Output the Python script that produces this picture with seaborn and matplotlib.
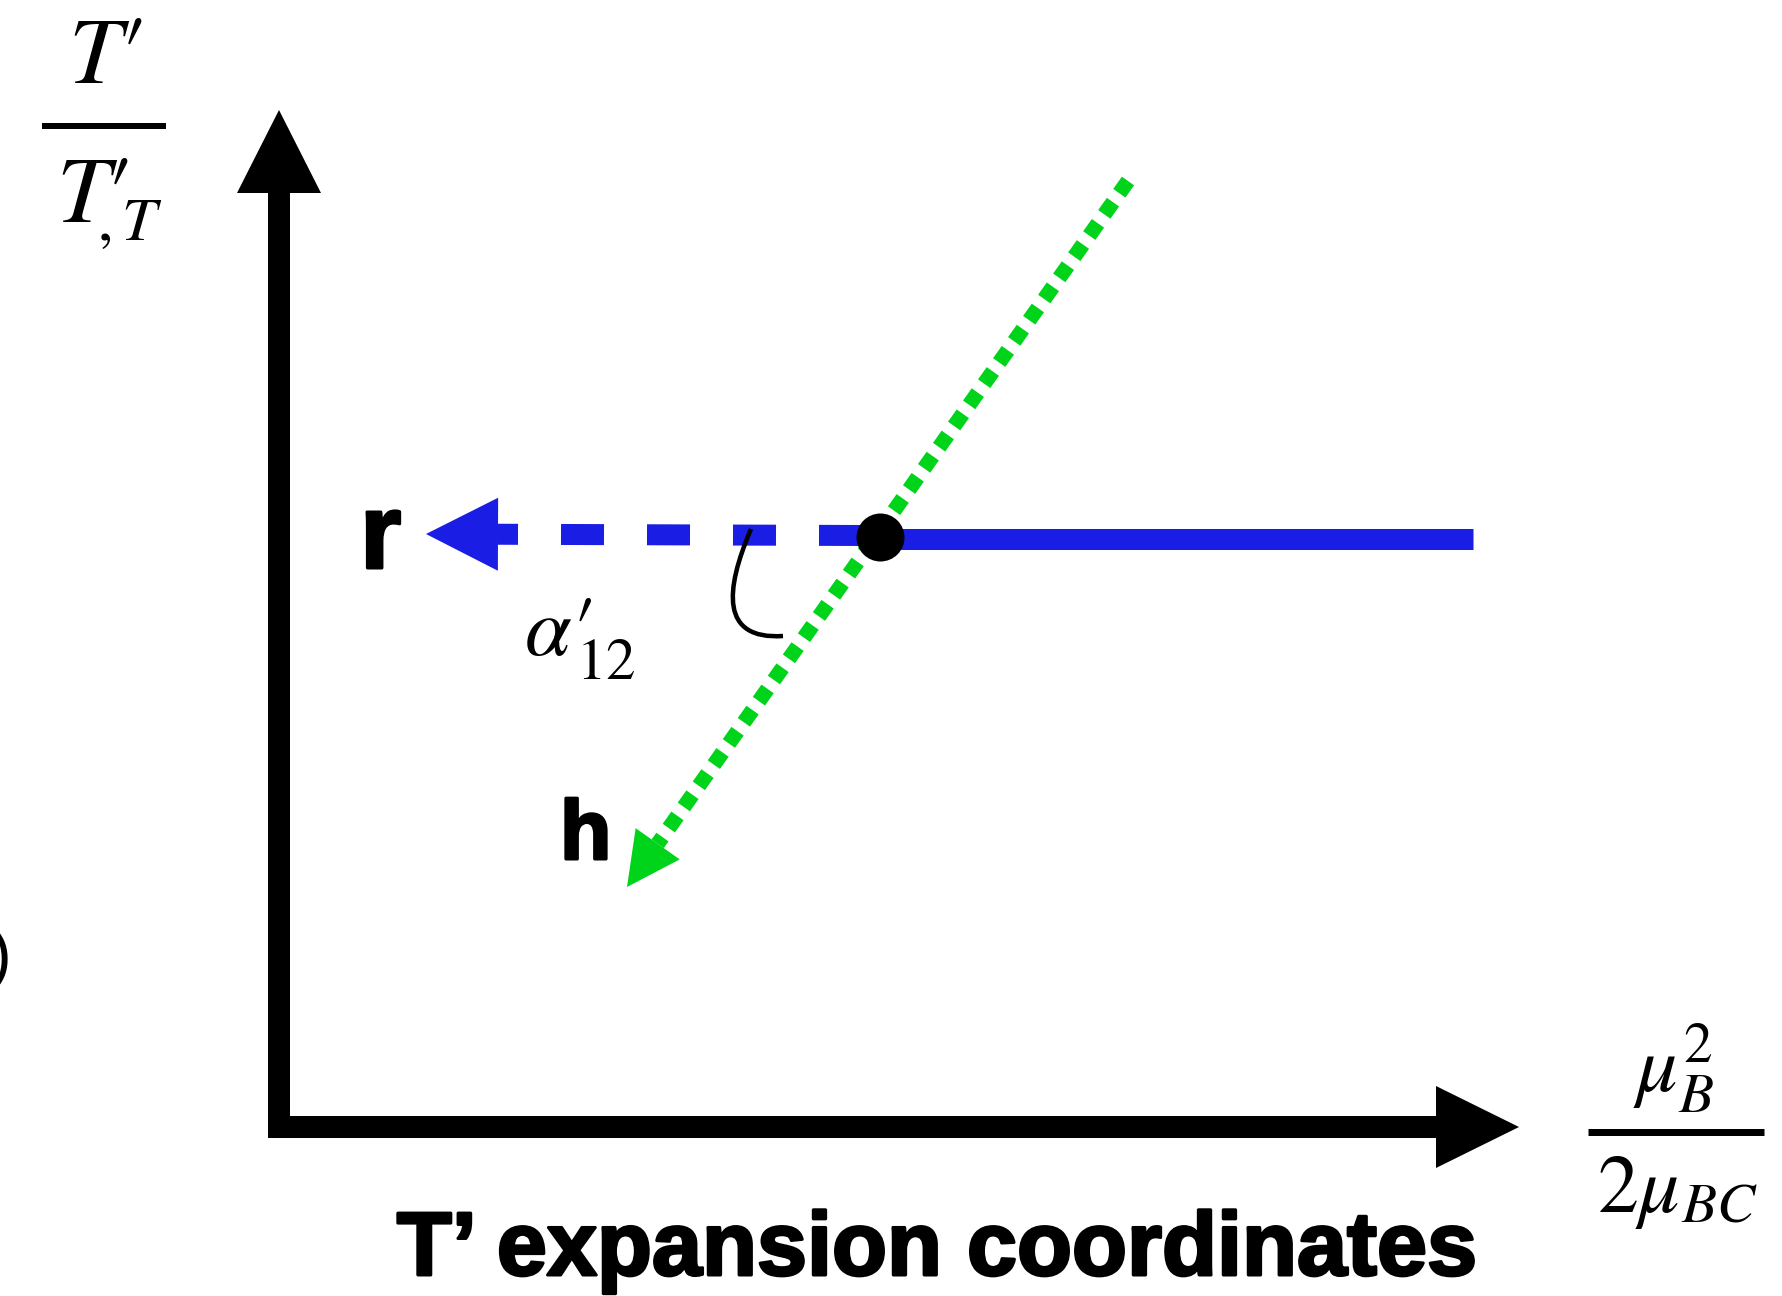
import numpy as np
import pandas as pd
import matplotlib
matplotlib.use("Agg")
import matplotlib.pyplot as plt
import matplotlib.patheffects as pe
import seaborn as sns
from matplotlib.path import Path
from matplotlib.patches import PathPatch, Polygon

# ---------------- diagram data (figure pixel coordinates, y downward) ----------------
axis_origin = [279, 1127]
x_axis_tip = [1519, 1127]
y_axis_tip = [279, 110]
y_axis_bottom = 1138
x_axis_left = 268

junction = [880, 537]            # black point
r_tip = [426, 534]               # arrow tip of the dashed "r" direction
r_dash_start = [862, 535.5]
solid_end = [1473, 538.5]
solid_start = [880, 538.5]
h_start = [1128, 181]            # top end of dotted "h" direction
h_tip = [627, 887]               # arrow tip of the "h" direction
arc_x = [751, 725, 720, 783]     # angle marker (cubic Bezier control points)
arc_y = [529, 590, 640, 636]

point_labels = ["r", "h"]
title_text = "T\u2019 expansion coordinates"
ylabel_num = r"$T\prime$"
ylabel_den_main = r"$T$"
ylabel_den_sub = r"$,T$"
prime = r"$\prime$"
xlabel_num = r"$\mu_B^2$"
xlabel_den = r"$2\mu_{BC}$"
angle_main = r"$\alpha$"
angle_sub = r"$12$"

BLUE = "#1a1de3"
GREEN = "#00d41a"
PX = 0.72  # points per pixel at dpi 100

sns.set_theme(style="white")
plt.rcParams["mathtext.fontset"] = "stix"
plt.rcParams["font.family"] = ["Liberation Sans", "DejaVu Sans"]
plt.rcParams["text.color"] = "black"

fig = plt.figure(figsize=(17.83, 12.96), dpi=100)
ax = fig.add_axes([0, 0, 1, 1])


def seg(p0, p1, color, lw_px, ls="-"):
    sns.lineplot(x=[p0[0], p1[0]], y=[p0[1], p1[1]], ax=ax, color=color,
                 linewidth=lw_px * PX, linestyle=ls, sort=False, estimator=None,
                 solid_capstyle="butt", dash_capstyle="butt", legend=False)


def head(tip, frm, length, width, color):
    tip = np.array(tip, float)
    d = tip - np.array(frm, float)
    d /= np.linalg.norm(d)
    n = np.array([-d[1], d[0]])
    base = tip - d * length
    ax.add_patch(Polygon([tip, base + n * width / 2, base - n * width / 2],
                         closed=True, facecolor=color, edgecolor="none", zorder=5))
    return base


def heavy(px):
    return [pe.withStroke(linewidth=px * PX, foreground="black")]


# axes arrows
yb = head(y_axis_tip, [y_axis_tip[0], y_axis_bottom], 83, 84, "black")
seg([axis_origin[0], y_axis_bottom], yb, "black", 22)
xb = head(x_axis_tip, [x_axis_left, x_axis_tip[1]], 83, 82, "black")
seg([x_axis_left, axis_origin[1]], xb, "black", 22)

# blue r direction
rb = head(r_tip, r_dash_start, 72, 73, BLUE)
seg(r_dash_start, rb, BLUE, 21, ls=(0, (43 / 21, 43 / 21)))
seg(solid_start, solid_end, BLUE, 21)

# green h direction
hb = head(h_tip, h_start, 53, 54, GREEN)
seg(h_start, hb, GREEN, 15, ls=(0, (1.0, 0.73)))

# black junction point
sns.scatterplot(x=[junction[0]], y=[junction[1]], ax=ax, color="black",
                s=(48 * PX) ** 2, linewidth=0, zorder=6, legend=False)

# angle marker
verts = list(zip(arc_x, arc_y))
ax.add_patch(PathPatch(Path(verts, [Path.MOVETO, Path.CURVE4, Path.CURVE4, Path.CURVE4]),
                       facecolor="none", edgecolor="black", lw=4.5 * PX,
                       capstyle="butt", zorder=4))

# labels
ax.text(360, 568, point_labels[0], fontsize=106 * PX, fontweight="bold",
        ha="left", va="baseline", path_effects=heavy(3))
ax.text(560, 859, point_labels[1], fontsize=84 * PX, fontweight="bold",
        ha="left", va="baseline", path_effects=heavy(3))
ax.text(524, 655, angle_main, fontsize=84 * PX, ha="left", va="baseline")
ax.text(572, 655, prime, fontsize=84 * PX, ha="left", va="baseline")
ax.text(576, 679, angle_sub, fontsize=59 * PX, ha="left", va="baseline")

# y label (fraction)
ax.text(106, 83, ylabel_num, fontsize=95 * PX, ha="center", va="baseline")
ax.plot([42, 166], [126, 126], color="black", lw=6 * PX, solid_capstyle="butt")
ax.text(56, 222, ylabel_den_main, fontsize=95 * PX, ha="left", va="baseline")
ax.text(106, 222, prime, fontsize=95 * PX, ha="left", va="baseline")
ax.text(97, 240, ylabel_den_sub, fontsize=62 * PX, ha="left", va="baseline")

# x label (fraction)
ax.text(1674, 1091, xlabel_num, fontsize=82 * PX, ha="center", va="baseline")
ax.plot([1588, 1764], [1132, 1132], color="black", lw=7 * PX, solid_capstyle="butt")
ax.text(1677, 1212, xlabel_den, fontsize=82 * PX, ha="center", va="baseline")

# title
ax.text(937, 1275, title_text, fontsize=90 * PX, fontweight="bold",
        ha="center", va="baseline", path_effects=heavy(3))

# clipped panel label at left edge
ax.text(13, 976, "(b)", fontsize=67 * PX, ha="right", va="baseline")

ax.set_xlim(0, 1783)
ax.set_ylim(1296, 0)
ax.axis("off")
fig.savefig("out.png", dpi=100)
